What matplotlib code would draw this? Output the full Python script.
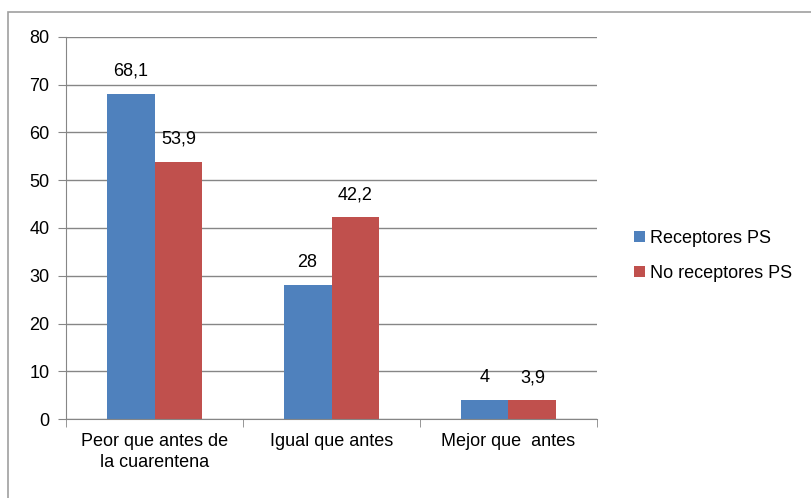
import numpy as np
import matplotlib
matplotlib.use('Agg')
import matplotlib.pyplot as plt
from matplotlib.patches import Rectangle

categories = ['Peor que antes de\nla cuarentena', 'Igual que antes', 'Mejor que  antes']
receptores = [68.1, 28, 4]
no_receptores = [53.9, 42.2, 3.9]
labels_rec = ['68,1', '28', '4']
labels_norec = ['53,9', '42,2', '3,9']
series_names = ['Receptores PS', 'No receptores PS']

BLUE, RED, GRID = '#4F81BD', '#C0504D', '#868686'
plt.rcParams['font.family'] = ['Liberation Sans', 'DejaVu Sans']

fig = plt.figure(figsize=(8.11, 4.98), dpi=100)
# outer chart frame (right and bottom edges fall outside the picture)
fig.patches.append(Rectangle((8/811, -0.05), 1.05, 1.05 - 12/498, transform=fig.transFigure,
                             fill=False, edgecolor='#A0A0A0', lw=1.2, clip_on=False))
ax = fig.add_axes([66/811, 79/498, 531/811, 382/498])

x = np.arange(len(categories))
w = 0.27
b1 = ax.bar(x - w/2, receptores, w, color=BLUE, label=series_names[0])
b2 = ax.bar(x + w/2, no_receptores, w, color=RED, label=series_names[1])
for bars, labs in [(b1, labels_rec), (b2, labels_norec)]:
    for r, lab in zip(bars, labs):
        ax.text(r.get_x() + r.get_width()/2, r.get_height() + 3, lab,
                ha='center', va='bottom', fontsize=13)

ax.set_xlim(-0.5, 2.5)
ax.set_ylim(0, 80)
ax.set_yticks(range(0, 81, 10))
ax.set_xticks(x)
ax.set_xticklabels(categories, fontsize=13, linespacing=1.3)
ax.set_xticks([-0.5, 0.5, 1.5, 2.5], minor=True)
ax.tick_params(axis='x', which='major', length=0, pad=10)
ax.tick_params(axis='x', which='minor', length=6, color=GRID)
ax.tick_params(axis='y', length=6, color=GRID, labelsize=13, pad=6)
ax.yaxis.grid(True, color=GRID, lw=1)
ax.set_axisbelow(True)
for s in ['top', 'right']:
    ax.spines[s].set_visible(False)
for s in ['left', 'bottom']:
    ax.spines[s].set_color(GRID)

fig.legend(loc='center left', bbox_to_anchor=(618/811, 1 - 256/498), frameon=False,
           fontsize=13, handlelength=0.6, handleheight=0.6, handletextpad=0.3,
           labelspacing=1.0)

fig.savefig('out.png', dpi=100)
